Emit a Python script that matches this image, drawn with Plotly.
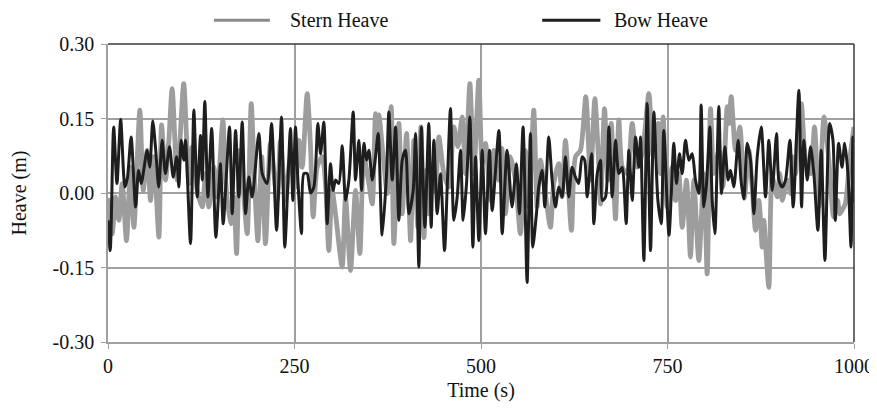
import plotly.graph_objects as go

# ---- data ----
stern_time = [
    0, 5.6, 10.1, 14.5, 19, 24.8, 30.2, 34.7, 42.7, 47.2, 52.5, 57, 61.5, 68.2, 71.8, 77.1, 81.6, 86, 92.8, 101.5,
    108.4, 112.8, 119.6, 126.3, 130.7, 135.2, 141.9, 146.4, 154, 157.5, 164.3, 168.7, 172.3, 176.8, 182.1, 186.6, 192, 196.4, 200.9, 206,
    211.1, 217.8, 226.8, 231.2, 237.9, 244.6, 251.3, 255.8, 260.3, 267, 271.5, 275, 280.4, 287.1, 291.6, 296, 300.5, 305, 313.9,
    318.4, 325.1, 331.8, 337.6, 343, 349.7, 354.2, 358.6, 361, 363.1, 368.9, 374.3, 379.6, 383.2, 389.9, 394.4, 400.2, 405.6, 410.1, 415.4,
    419.5, 423.5, 427, 430.1, 434.5, 439, 443.5, 450.2, 456.9, 463.6, 469, 474.8, 479.2, 485.1, 490.4, 497.1, 501.6, 506.1, 512.8, 517.2, 523.9,
    528, 532.7, 539.4, 546.1, 552.8, 559.5, 564, 570.7, 575.2, 579.6, 586.3, 593.1, 597.5, 604.2, 608.7, 613.2, 621.2, 626.6, 633.3,
    640.5, 646.8, 652.6, 658, 660.2, 665.6, 670.1, 674.5, 680.3, 684.8, 689.3, 696, 702.7, 709.4, 716.1, 725, 730.8, 737.6, 740.6,
    744.2, 749.5, 756.2, 760.7, 765.2, 769.7, 775.5, 780.8, 785.3, 792, 798.7, 803.2, 807.7, 812.1, 818.8, 824.2, 830, 832.5, 835.4, 841.2, 847,
    853, 859.1, 863.5, 868, 872.5, 877, 879.2, 881.4, 885.9, 890.4, 897.1, 900.6, 903.8, 910.5, 915, 917.2, 921.7, 923.9, 929.3, 935.1,
    941.8, 947.1, 952.9, 959.7, 966, 972.7, 978, 980.7, 983.9, 988.3, 994.2, 1000,
]
stern_heave = [
    -0.010, -0.082, -0.008, -0.055, 0.019, -0.096, 0.052, -0.069, 0.167, 0.005, 0.086, -0.015, 0.073, -0.089, 0.137, 0.026, 0.106, 0.210, 0.026, 0.220,
    0.019, 0.093, 0.005, -0.028, 0.039, -0.028, 0.052, -0.008, 0.147, 0.026, -0.062, -0.008, -0.122, 0.086, -0.008, -0.082, 0.180, 0.026, -0.096, 0.073,
    -0.102, 0.100, -0.015, 0.106, -0.015, 0.073, 0.012, 0.106, 0.052, 0.200, 0.093, -0.048, 0.052, 0.073, 0.019, -0.116, 0.005, -0.042, -0.149,
    -0.008, -0.156, 0.005, -0.122, 0.073, 0.019, -0.022, 0.160, 0.120, 0.157, 0.073, -0.001, 0.174, -0.102, 0.140, -0.042, 0.120, -0.096, 0.106, -0.069,
    0.133, -0.090, 0.046, -0.042, 0.059, 0.005, 0.113, 0.039, 0.012, 0.133, 0.093, 0.153, 0.039, 0.220, 0.039, 0.227, 0.059, 0.100, -0.015, 0.086, 0.026,
    0.090, -0.042, 0.073, 0.026, -0.082, 0.086, -0.028, 0.167, -0.028, 0.066, -0.001, -0.069, 0.019, 0.059, -0.008, 0.106, -0.075, 0.073, 0.086,
    0.194, 0.026, 0.190, 0.052, -0.022, 0.170, 0.026, 0.140, -0.052, 0.147, 0.052, 0.039, 0.140, 0.052, 0.079, 0.200, 0.073, 0.140, 0.039,
    0.153, -0.028, 0.052, -0.015, 0.039, -0.069, 0.026, -0.129, 0.026, -0.136, 0.039, -0.163, 0.170, 0.039, 0.086, 0.012, 0.174, 0.140, 0.194, 0.086, 0.133,
    -0.010, 0.086, 0.012, -0.075, -0.015, -0.109, -0.055, -0.102, -0.190, 0.032, -0.008, 0.039, -0.015, 0.026, -0.001, 0.073, 0.039, 0.106, 0.180, 0.066,
    0.039, 0.133, -0.028, 0.153, 0.073, -0.048, -0.015, -0.042, -0.035, -0.022, 0.066, 0.133,
]

bow_time = [
    0, 3, 7.6, 12, 17, 22.6, 26, 31, 37, 41, 44.5, 52.5, 56, 60, 64, 68, 72.6, 77, 82.5, 87.4, 92, 95, 98,
    101.7, 103.9, 110.6, 115.1, 119.6, 124, 126.3, 129.8, 133.9, 139, 144.6, 150.8, 154.4, 162.9, 166.5, 171, 175.4, 179.9, 184.4, 188.8, 193.3, 202.2, 206.7,
    213.3, 219.2, 226, 232.6, 237, 244.6, 247.8, 251.3, 254.5, 259.4, 262.5, 267, 271.5, 276, 281.3, 284.9, 289.3, 293.8, 298.3, 301.8, 305, 309.4,
    314, 318.4, 322.9, 328.7, 331.8, 336.3, 339.9, 343, 346.6, 349.7, 354.2, 358.6, 362.2, 367.5, 373.4, 376.5, 381, 385.5, 389.9, 394.4, 398.9, 403.3, 409.1, 412.3, 416.7,
    420, 424.7, 430, 433.2, 436.8, 441.3, 445.7, 451.1, 454.7, 459.1, 463.6, 468.1, 472.5, 476.1, 480.6, 485.1, 489.1, 492.7, 497.1, 501.6, 506, 511.4, 515, 524, 528.4,
    535, 541.6, 547.5, 551.5, 556.4, 561.8, 566.2, 569.4, 574.3, 577.4, 581.9, 585.5, 590.8, 595.3, 599.8, 604.2, 608.7, 613.2, 617.6, 622.1, 626.6, 631, 635.5,
    639, 642.3, 648.2, 651.3, 655.8, 660.2, 662.5, 666.9, 671.4, 675.9, 680.3, 684.8, 689.3, 694.6, 698.2, 702.7, 707.2, 711.6, 713.9, 718.3, 722.8, 727.3, 731.7, 737.1, 741.6,
    745, 752, 758.5, 762, 766.1, 769.7, 774.1, 778.6, 783.1, 787.5, 792, 795.1, 798.7, 802.3, 806.8, 809.9, 813.5, 818.8, 822.4, 826.9, 831.3, 834.5, 838.9, 844.8, 848.5,
    852.4, 856.8, 861.3, 865.8, 870.3, 875.6, 881.4, 885.9, 890.4, 896.2, 899.3, 903.8, 908.2, 914.1, 918.5, 926.1, 929.7, 932.8, 937.3, 941.8, 946.2, 951.6, 956.1,
    961, 967.3, 971.8, 974.9, 979.4, 983.9, 987.5, 991.9, 996, 998.5, 1000,
]
bow_heave = [
    -0.055, -0.116, 0.133, 0.019, 0.148, 0.012, 0.030, 0.113, -0.028, 0.046, 0.019, 0.086, 0.052, 0.145, 0.086, 0.012, 0.106, 0.039, 0.093, 0.032, 0.073, 0.012, 0.106,
    0.066, 0.106, -0.102, 0.167, -0.008, 0.116, 0.026, 0.184, -0.008, 0.130, -0.089, 0.059, -0.062, 0.133, -0.042, 0.126, -0.008, 0.143, -0.042, 0.032, -0.008, 0.120, 0.039,
    0.019, 0.140, -0.075, 0.153, -0.109, 0.130, -0.015, 0.133, 0.026, -0.082, 0.039, 0.039, 0.000, 0.012, 0.140, 0.079, 0.143, -0.062, 0.059, 0.005, 0.026, 0.019,
    0.095, -0.015, 0.026, 0.163, 0.026, 0.106, 0.005, 0.100, 0.066, 0.086, 0.026, 0.073, 0.120, -0.085, 0.039, 0.163, 0.026, 0.133, -0.055, 0.066, 0.086, -0.042, 0.005, 0.120, -0.149,
    0.133, -0.069, 0.140, -0.069, 0.106, -0.042, 0.039, -0.116, 0.012, 0.170, -0.055, -0.008, 0.086, -0.055, 0.019, 0.153, -0.109, 0.073, -0.096, 0.086, -0.082, 0.086, -0.035, 0.126, -0.082,
    0.086, -0.028, 0.059, -0.042, 0.133, -0.180, 0.120, -0.109, -0.042, 0.012, 0.046, -0.028, 0.113, 0.026, -0.028, 0.012, -0.008, 0.073, -0.008, 0.052, 0.032, 0.019, 0.073,
    0.066, -0.008, 0.079, -0.062, 0.039, 0.066, -0.015, -0.008, 0.133, -0.008, 0.106, 0.039, 0.052, -0.062, 0.086, -0.015, 0.113, 0.052, 0.113, -0.136, 0.180, -0.116, 0.163, -0.015, -0.062,
    0.126, -0.085, 0.100, 0.019, 0.079, 0.039, 0.106, 0.066, 0.079, 0.026, -0.001, 0.177, -0.028, 0.019, 0.133, -0.015, -0.082, 0.174, -0.001, 0.093, 0.026, 0.046, 0.012, 0.106, 0.026,
    -0.012, 0.100, 0.066, -0.042, 0.073, 0.133, -0.008, 0.106, 0.005, 0.120, 0.026, 0.012, 0.026, 0.106, -0.028, 0.207, -0.028, 0.106, 0.026, 0.093, 0.039, -0.075, 0.086,
    -0.136, 0.140, 0.106, -0.055, 0.100, 0.052, 0.100, 0.039, -0.109, 0.113, -0.020,
]

x_ticks = [0, 250, 500, 750, 1000]
x_tick_labels = ["0", "250", "500", "750", "1000"]
y_ticks = [-0.30, -0.15, 0.00, 0.15, 0.30]
y_tick_labels = ["-0.30", "-0.15", "0.00", "0.15", "0.30"]
series_names = ["Stern Heave", "Bow Heave"]

GRAY = "#9d9d9d"
BLACK = "#1e1e1e"
GRID = "#a0a0a0"
FONT = "Liberation Serif, Times New Roman, serif"

fig = go.Figure()
fig.add_trace(go.Scatter(x=stern_time, y=stern_heave, mode="lines", name=series_names[0],
                         line=dict(color=GRAY, width=4.8, shape="spline", smoothing=0.7)))
fig.add_trace(go.Scatter(x=bow_time, y=bow_heave, mode="lines", name=series_names[1],
                         line=dict(color=BLACK, width=3, shape="spline", smoothing=0.7)))

# legend drawn as line samples + text above the plot (paper coordinates)
leg_y = 1.08
for (x0, x1, xt, col, w, name) in [(0.142, 0.217, 0.241, "#8a8a8a", 3, series_names[0]),
                                    (0.582, 0.660, 0.676, BLACK, 3, series_names[1])]:
    fig.add_shape(type="line", xref="paper", yref="paper", x0=x0, x1=x1, y0=leg_y, y1=leg_y,
                  line=dict(color=col, width=w))
    fig.add_annotation(xref="paper", yref="paper", x=xt, y=leg_y, text=name, showarrow=False,
                       xanchor="left", yanchor="middle", font=dict(family=FONT, size=20, color="#111"))

# darker top and right frame lines
fig.add_shape(type="line", xref="paper", yref="paper", x0=0, x1=1, y0=1, y1=1,
              line=dict(color="#3a3a3a", width=1.5), layer="above")
fig.add_shape(type="line", xref="paper", yref="paper", x0=1, x1=1, y0=0, y1=1,
              line=dict(color="#3a3a3a", width=1.5), layer="above")

axis_common = dict(showgrid=True, gridcolor=GRID, gridwidth=1.5, showline=True, linecolor=GRID,
                   linewidth=1.5, ticks="outside", ticklen=5, tickcolor=GRID, zeroline=False,
                   tickfont=dict(family=FONT, size=20, color="#111"))

fig.update_xaxes(range=[0, 1000], tickmode="array", tickvals=x_ticks, ticktext=x_tick_labels,
                 title=dict(text="Time (s)", font=dict(family=FONT, size=20, color="#111"), standoff=8),
                 **axis_common)
fig.update_yaxes(range=[-0.30, 0.30], tickmode="array", tickvals=y_ticks, ticktext=y_tick_labels,
                 ticklabelstandoff=3,
                 title=dict(text="Heave (m)", font=dict(family=FONT, size=20, color="#111"), standoff=22),
                 **axis_common)

# page body has an 8px default margin; the figure is offset by it, so margins compensate
fig.update_layout(width=880, height=394, margin=dict(l=100, r=34, t=36, b=60, autoexpand=False),
                  plot_bgcolor="white", paper_bgcolor="white", showlegend=False,
                  font=dict(family=FONT, size=20, color="#111"))

fig.write_html("out.html")
